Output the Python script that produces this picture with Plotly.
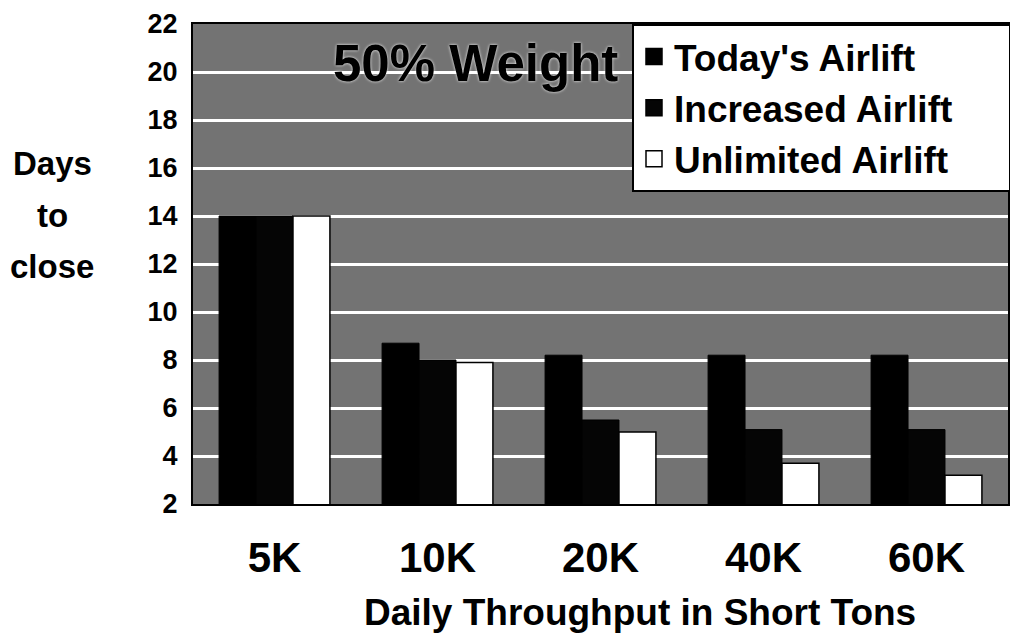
import plotly.graph_objects as go

categories = ["5K", "10K", "20K", "40K", "60K"]
todays_airlift = [14, 8.7, 8.2, 8.2, 8.2]
increased_airlift = [14, 8.0, 5.5, 5.1, 5.1]
unlimited_airlift = [14, 7.9, 5.0, 3.7, 3.2]
y_ticks = [2, 4, 6, 8, 10, 12, 14, 16, 18, 20, 22]

FONT = "Liberation Sans, Arial, sans-serif"
W, H = 1010, 635
L, R, T, B = 193, 2, 24, 131
PH = H - T - B
PW = W - L - R
NBSP = "\u00a0"


def px_x(x):
    return (x - L) / PW


def px_y(y):
    return (H - B - y) / PH


fig = go.Figure()
fig.add_trace(go.Bar(x=categories, y=todays_airlift, name="Today's Airlift",
                     marker=dict(color="#000000", line=dict(color="#000000", width=1)),
                     showlegend=False))
fig.add_trace(go.Bar(x=categories, y=increased_airlift, name="Increased Airlift",
                     marker=dict(color="#050505", line=dict(color="#000000", width=1)),
                     showlegend=False))
fig.add_trace(go.Bar(x=categories, y=unlimited_airlift, name="Unlimited Airlift",
                     marker=dict(color="#ffffff", line=dict(color="#000000", width=1.5)),
                     showlegend=False))

# legend entries with larger square symbols
for name, col in [("Today's Airlift", "#000000"), ("Increased Airlift" + NBSP * 5, "#050505"),
                  ("Unlimited Airlift", "#ffffff")]:
    fig.add_trace(go.Scatter(x=[None], y=[None], mode="markers", name=name,
                             marker=dict(symbol="square", size=16, color=col,
                                         line=dict(color="#000000", width=1.5))))

fig.update_layout(
    width=W, height=H,
    margin=dict(l=L, r=R, t=T, b=B, autoexpand=False),
    paper_bgcolor="#ffffff",
    plot_bgcolor="#737373",
    barmode="group",
    bargap=0.32,
    bargroupgap=0,
    font=dict(family=FONT, color="#000000"),
    legend=dict(x=px_x(632), xanchor="left", y=px_y(24), yanchor="top",
                bgcolor="#ffffff", bordercolor="#000000", borderwidth=2,
                font=dict(family=FONT, size=37, color="#000000", weight="bold"),
                tracegroupgap=0, itemwidth=30),
)

fig.update_xaxes(
    type="category",
    automargin=False,
    showgrid=False,
    showline=True, linecolor="#000000", linewidth=2, mirror=True,
    ticks="",
    tickfont=dict(family=FONT, size=42, color="#000000", weight="bold"),
    ticklabelstandoff=16,
)
fig.update_yaxes(
    range=[2, 22],
    automargin=False,
    tickvals=y_ticks,
    showgrid=True, gridcolor="#ffffff", gridwidth=2.5,
    showline=True, linecolor="#000000", linewidth=2, mirror=True,
    zeroline=False,
    ticks="",
    tickfont=dict(family=FONT, size=27, color="#000000", weight="bold"),
    ticklabelstandoff=8,
)

annotations = [
    dict(text="50% Weight", x=px_x(475), y=px_y(63), xref="paper", yref="paper",
         showarrow=False, xanchor="center", yanchor="middle",
         font=dict(family=FONT, size=51, color="#000000", weight="bold",
                   shadow="0px 0px 3px #ffffff")),
    dict(text="Daily Throughput in Short Tons", x=px_x(640), y=px_y(612),
         xref="paper", yref="paper", showarrow=False, xanchor="center", yanchor="middle",
         font=dict(family=FONT, size=37, color="#000000", weight="bold")),
]
for txt, yc in [("Days", 163), ("to", 215), ("close", 266)]:
    annotations.append(dict(text=txt, x=px_x(52), y=px_y(yc), xref="paper", yref="paper",
                            showarrow=False, xanchor="center", yanchor="middle",
                            font=dict(family=FONT, size=33, color="#000000", weight="bold")))
fig.update_layout(annotations=annotations)

fig.write_html("out.html", config={"displayModeBar": False},
               post_script="document.body.style.margin='0';document.body.style.overflow='hidden';")
